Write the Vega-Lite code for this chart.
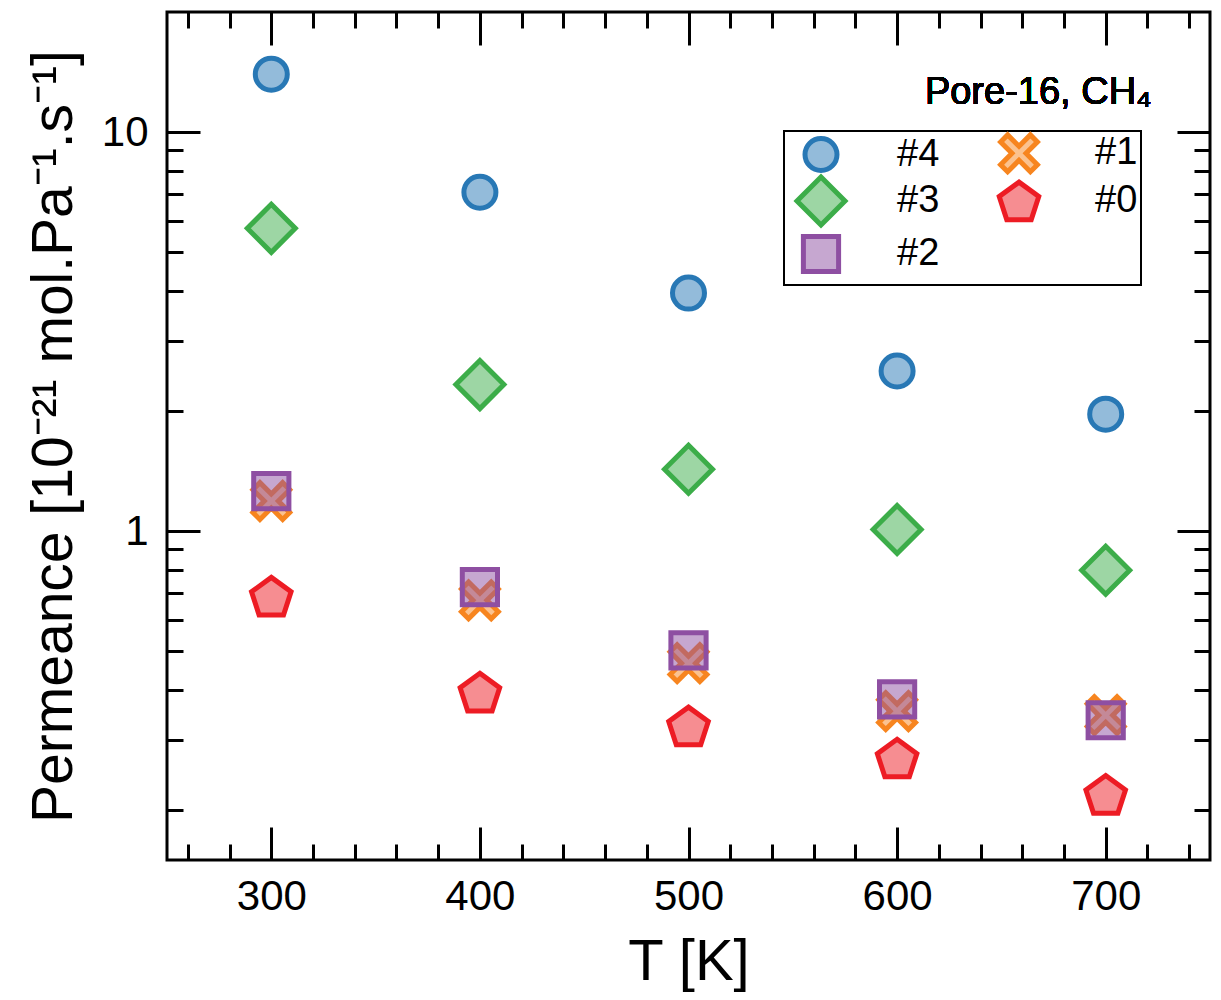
{
  "$schema": "https://vega.github.io/schema/vega-lite/v6.json",
  "width": 1043,
  "height": 848,
  "autosize": "none",
  "padding": {"left": 167, "top": 12, "right": 11, "bottom": 140},
  "config": {
    "font": "Liberation Sans",
    "view": {"stroke": "black", "strokeWidth": 3},
    "axis": {"grid": false, "domain": false, "tickColor": "black", "tickWidth": 3, "labelColor": "black", "titleColor": "black", "labelFont": "Liberation Sans", "titleFont": "Liberation Sans", "titleFontWeight": "normal"},
    "legend": {"labelFont": "Liberation Sans", "strokeWidth": 2}
  },
  "data": {"values": [
    {"T": 300, "P": 0.687, "g": "#0"}, {"T": 400, "P": 0.395, "g": "#0"}, {"T": 500, "P": 0.325, "g": "#0"}, {"T": 600, "P": 0.270, "g": "#0"}, {"T": 700, "P": 0.219, "g": "#0"},
    {"T": 300, "P": 1.19, "g": "#1"}, {"T": 400, "P": 0.671, "g": "#1"}, {"T": 500, "P": 0.467, "g": "#1"}, {"T": 600, "P": 0.354, "g": "#1"}, {"T": 700, "P": 0.346, "g": "#1"},
    {"T": 300, "P": 1.26, "g": "#2"}, {"T": 400, "P": 0.724, "g": "#2"}, {"T": 500, "P": 0.503, "g": "#2"}, {"T": 600, "P": 0.379, "g": "#2"}, {"T": 700, "P": 0.336, "g": "#2"},
    {"T": 300, "P": 5.74, "g": "#3"}, {"T": 400, "P": 2.33, "g": "#3"}, {"T": 500, "P": 1.43, "g": "#3"}, {"T": 600, "P": 1.01, "g": "#3"}, {"T": 700, "P": 0.798, "g": "#3"},
    {"T": 300, "P": 13.97, "g": "#4"}, {"T": 400, "P": 7.07, "g": "#4"}, {"T": 500, "P": 3.95, "g": "#4"}, {"T": 600, "P": 2.52, "g": "#4"}, {"T": 700, "P": 1.965, "g": "#4"}
  ]},
  "resolve": {"axis": {"x": "independent", "y": "independent"}},
  "layer": [
    {
      "mark": {"type": "point", "filled": false, "size": 1024, "strokeWidth": 5, "opacity": 1},
      "encoding": {
        "x": {"field": "T", "type": "quantitative", "scale": {"domain": [250, 750], "nice": false, "zero": false},
              "axis": {"orient": "bottom", "values": [300, 400, 500, 600, 700], "ticks": false, "labelFontSize": 42, "labelPadding": 16, "title": "T [K]", "titleFontSize": 58, "titlePadding": 16}},
        "y": {"field": "P", "type": "quantitative", "scale": {"type": "log", "domain": [0.15, 20], "nice": false},
              "axis": {"orient": "left", "values": [1, 10], "format": "~g", "ticks": false, "labelFontSize": 42, "labelPadding": 19, "title": "Permeance [10⁻²¹ mol.Pa⁻¹.s⁻¹]", "titleFontSize": 57, "titlePadding": 18}},
        "shape": {"field": "g", "type": "nominal",
                  "scale": {"domain": ["#4", "#1", "#3", "#0", "#2"],
                            "range": ["circle",
                                      "M-1.15,-0.71L-0.71,-1.15L0,-0.44L0.71,-1.15L1.15,-0.71L0.44,0L1.15,0.71L0.71,1.15L0,0.44L-0.71,1.15L-1.15,0.71L-0.44,0Z",
                                      "M0,-1.5L1.5,0L0,1.5L-1.5,0Z",
                                      "M0,-1.18L1.236,-0.28L0.764,1.17L-0.764,1.17L-1.236,-0.28Z",
                                      "M-1.1,-1.1H1.1V1.1H-1.1Z"]},
                  "legend": {"title": null, "orient": "none", "legendX": 617, "legendY": 119, "columns": 2, "direction": "horizontal",
                             "strokeColor": "black", "padding": 3, "symbolOffset": 15, "symbolSize": 1024, "symbolStrokeWidth": 5,
                             "labelFontSize": 38, "labelOffset": 57, "columnPadding": 45, "rowPadding": -20, "labelColor": "black"}},
        "stroke": {"field": "g", "type": "nominal",
                   "scale": {"domain": ["#4", "#1", "#3", "#0", "#2"], "range": ["#2878b5", "#f7851f", "#3cad49", "#ed1c24", "#8e4fa2"]}},
        "fill": {"field": "g", "type": "nominal",
                 "scale": {"domain": ["#4", "#1", "#3", "#0", "#2"], "range": ["rgba(40,120,181,0.5)", "rgba(247,133,31,0.5)", "rgba(60,173,73,0.5)", "rgba(237,28,36,0.5)", "rgba(142,79,162,0.5)"]}}
      }
    },
    {
      "mark": {"type": "point", "opacity": 0},
      "encoding": {
        "x": {"field": "T", "type": "quantitative", "scale": {"domain": [250, 750], "nice": false, "zero": false},
              "axis": {"orient": "bottom", "values": [300, 400, 500, 600, 700], "labels": false, "tickSize": -33, "title": null}},
        "y": {"field": "P", "type": "quantitative", "scale": {"type": "log", "domain": [0.15, 20], "nice": false},
              "axis": {"orient": "left", "values": [1, 10], "labels": false, "tickSize": -33, "title": null}}
      }
    },
    {
      "mark": {"type": "point", "opacity": 0},
      "encoding": {
        "x": {"field": "T", "type": "quantitative", "scale": {"domain": [250, 750], "nice": false, "zero": false},
              "axis": {"orient": "bottom", "values": [260, 280, 320, 340, 360, 380, 420, 440, 460, 480, 520, 540, 560, 580, 620, 640, 660, 680, 720, 740], "labels": false, "tickSize": -16, "title": null}},
        "y": {"field": "P", "type": "quantitative", "scale": {"type": "log", "domain": [0.15, 20], "nice": false},
              "axis": {"orient": "left", "values": [0.2, 0.3, 0.4, 0.5, 0.6, 0.7, 0.8, 0.9, 2, 3, 4, 5, 6, 7, 8, 9], "labels": false, "tickSize": -16, "title": null}}
      }
    },
    {
      "mark": {"type": "point", "opacity": 0},
      "encoding": {
        "x": {"field": "T", "type": "quantitative", "scale": {"domain": [250, 750], "nice": false, "zero": false},
              "axis": {"orient": "top", "values": [300, 400, 500, 600, 700], "labels": false, "tickSize": -33, "title": null}},
        "y": {"field": "P", "type": "quantitative", "scale": {"type": "log", "domain": [0.15, 20], "nice": false},
              "axis": {"orient": "right", "values": [1, 10], "labels": false, "tickSize": -33, "title": null}}
      }
    },
    {
      "mark": {"type": "point", "opacity": 0},
      "encoding": {
        "x": {"field": "T", "type": "quantitative", "scale": {"domain": [250, 750], "nice": false, "zero": false},
              "axis": {"orient": "top", "values": [260, 280, 320, 340, 360, 380, 420, 440, 460, 480, 520, 540, 560, 580, 620, 640, 660, 680, 720, 740], "labels": false, "tickSize": -16, "title": null}},
        "y": {"field": "P", "type": "quantitative", "scale": {"type": "log", "domain": [0.15, 20], "nice": false},
              "axis": {"orient": "right", "values": [0.2, 0.3, 0.4, 0.5, 0.6, 0.7, 0.8, 0.9, 2, 3, 4, 5, 6, 7, 8, 9], "labels": false, "tickSize": -16, "title": null}}
      }
    },
    {
      "mark": {"type": "text", "text": "Pore-16, CH₄", "align": "right", "baseline": "alphabetic", "fontSize": 38, "fontWeight": "normal", "fill": "black", "strokeWidth": 0},
      "encoding": {
        "x": {"datum": 722, "type": "quantitative", "scale": {"domain": [250, 750], "nice": false, "zero": false}, "axis": null},
        "y": {"datum": 11.76, "type": "quantitative", "scale": {"type": "log", "domain": [0.15, 20], "nice": false}, "axis": null}
      }
    }
  ]
}
